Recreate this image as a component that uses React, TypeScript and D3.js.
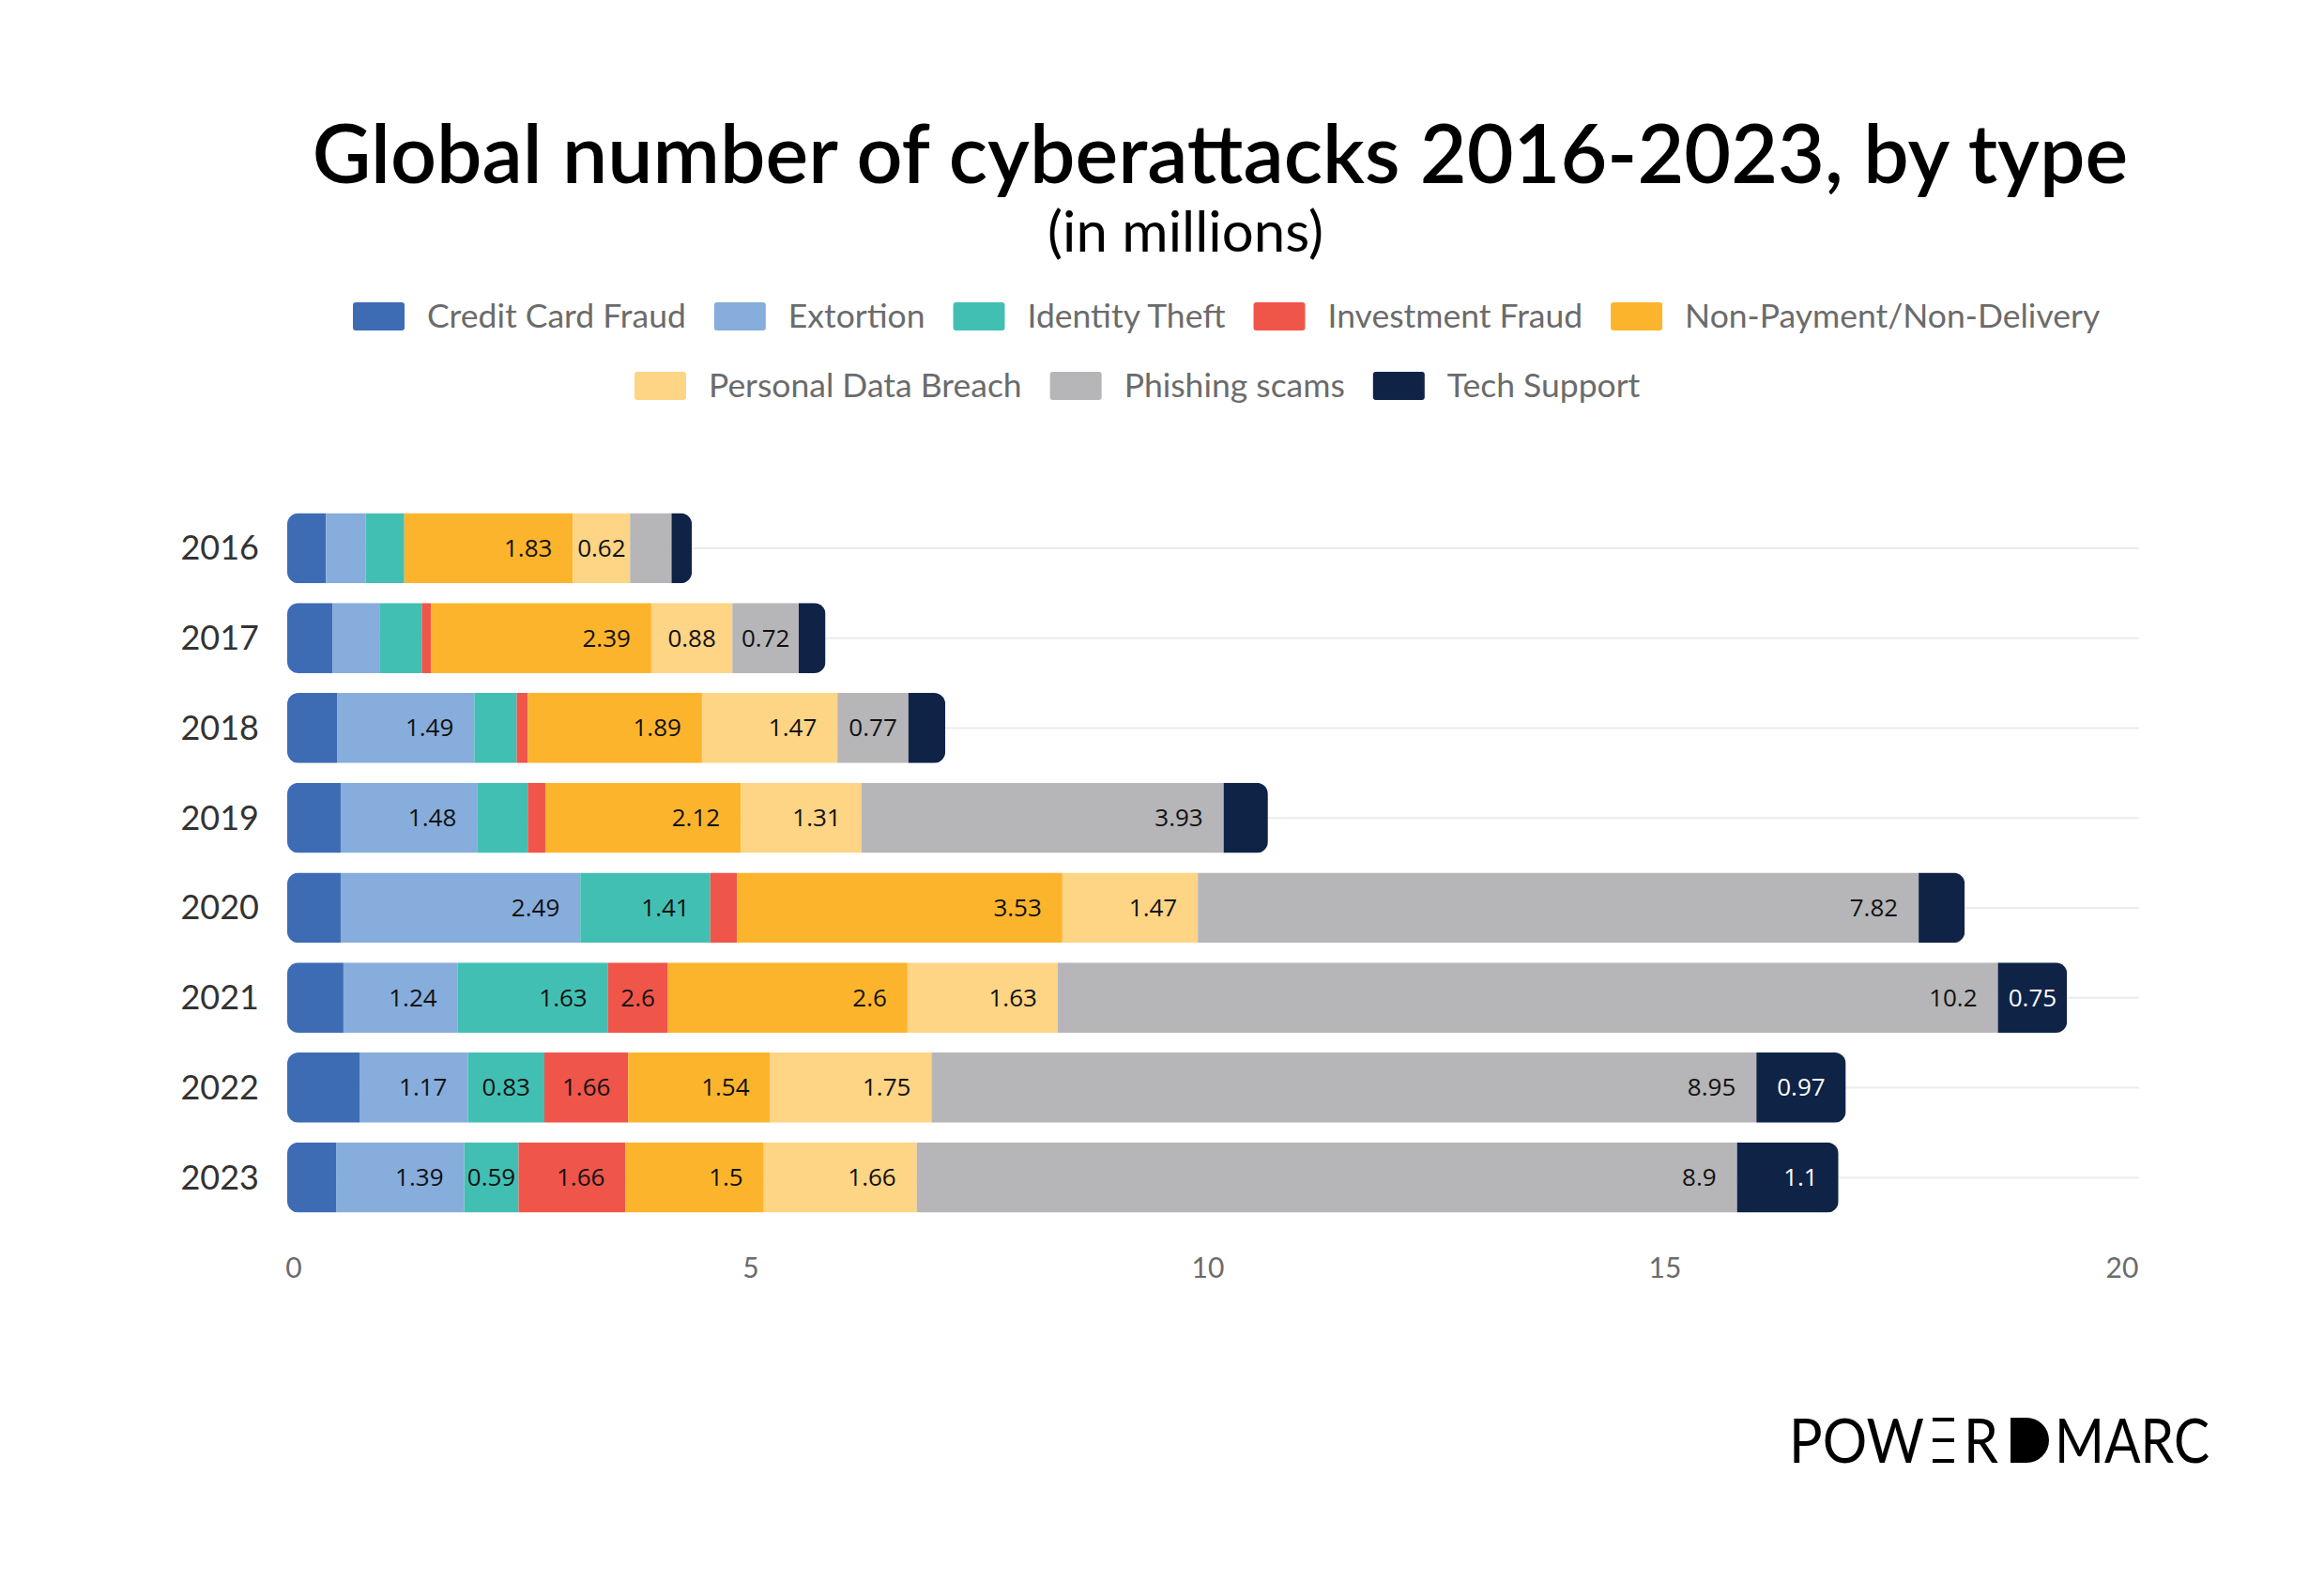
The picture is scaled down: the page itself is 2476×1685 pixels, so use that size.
import React, { useEffect, useRef } from "react";
import * as d3 from "d3";

const years = ["2016", "2017", "2018", "2019", "2020", "2021", "2022", "2023"];
const seriesNames = [
  "Credit Card Fraud",
  "Extortion",
  "Identity Theft",
  "Investment Fraud",
  "Non-Payment/Non-Delivery",
  "Personal Data Breach",
  "Phishing scams",
  "Tech Support",
];
const seriesColors = ["#3d6cb5", "#86addb", "#42bfb3", "#f0554a", "#fdb42d", "#fed485", "#b6b5b8", "#0f2347"];

// segment widths (millions) as drawn
const creditCard = [0.42, 0.49, 0.54, 0.58, 0.58, 0.61, 0.79, 0.53];
const extortion = [0.43, 0.51, 1.49, 1.48, 2.6, 1.24, 1.17, 1.39];
const identityTheft = [0.42, 0.46, 0.46, 0.55, 1.41, 1.63, 0.83, 0.59];
const investmentFraud = [0, 0.1, 0.12, 0.19, 0.29, 0.65, 0.91, 1.16];
const nonPayment = [1.83, 2.39, 1.89, 2.12, 3.53, 2.6, 1.54, 1.5];
const personalData = [0.62, 0.88, 1.47, 1.31, 1.47, 1.63, 1.75, 1.66];
const phishing = [0.45, 0.72, 0.77, 3.93, 7.82, 10.2, 8.95, 8.9];
const techSupport = [0.22, 0.29, 0.4, 0.48, 0.5, 0.75, 0.97, 1.1];

// value labels as printed on the chart ("" = none)
const creditCardLabels = ["", "", "", "", "", "", "", ""];
const extortionLabels = ["", "", "1.49", "1.48", "2.49", "1.24", "1.17", "1.39"];
const identityTheftLabels = ["", "", "", "", "1.41", "1.63", "0.83", "0.59"];
const investmentFraudLabels = ["", "", "", "", "", "2.6", "1.66", "1.66"];
const nonPaymentLabels = ["1.83", "2.39", "1.89", "2.12", "3.53", "2.6", "1.54", "1.5"];
const personalDataLabels = ["0.62", "0.88", "1.47", "1.31", "1.47", "1.63", "1.75", "1.66"];
const phishingLabels = ["", "0.72", "0.77", "3.93", "7.82", "10.2", "8.95", "8.9"];
const techSupportLabels = ["", "", "", "", "", "0.75", "0.97", "1.1"];

const xTicks = [0, 5, 10, 15, 20];

const seriesValues = [creditCard, extortion, identityTheft, investmentFraud, nonPayment, personalData, phishing, techSupport];
const seriesLabels = [
  creditCardLabels,
  extortionLabels,
  identityTheftLabels,
  investmentFraudLabels,
  nonPaymentLabels,
  personalDataLabels,
  phishingLabels,
  techSupportLabels,
];

const W = 2476;
const H = 1685;
const FONT = "Lato, 'Open Sans', sans-serif";
const NUMFONT = "'Open Sans', 'Noto Sans', sans-serif";

export default function App() {
  const ref = useRef<SVGSVGElement | null>(null);

  useEffect(() => {
    const svg = d3.select(ref.current);
    svg.selectAll("*").remove();

    const x = d3.scaleLinear().domain([0, 20]).range([306, 2270]);
    // the printed axis labels sit on a slightly narrower scale in the original
    const xAxis = d3.scaleLinear().domain([0, 20]).range([313, 2261]);
    const y = d3.scaleBand<string>().domain(years).range([536, 1302]).paddingInner(0.22).paddingOuter(0.11);
    const bh = y.bandwidth();

    // title
    svg
      .append("text")
      .attr("x", 1300)
      .attr("y", 195)
      .attr("text-anchor", "middle")
      .attr("font-family", FONT)
      .attr("font-size", 86)
      .attr("font-weight", 600)
      .attr("fill", "#000")
      .text("Global number of cyberattacks 2016-2023, by type");
    svg
      .append("text")
      .attr("x", 1263)
      .attr("y", 268)
      .attr("text-anchor", "middle")
      .attr("font-family", FONT)
      .attr("font-size", 60)
      .attr("font-weight", 400)
      .attr("fill", "#000")
      .text("(in millions)");

    // legend
    const rows = [
      { start: 376, cy: 337, items: [0, 1, 2, 3, 4] },
      { start: 676, cy: 411, items: [5, 6, 7] },
    ];
    rows.forEach((row) => {
      let cx = row.start;
      row.items.forEach((i) => {
        const g = svg.append("g");
        g.append("rect")
          .attr("x", cx)
          .attr("y", row.cy - 15)
          .attr("width", 55)
          .attr("height", 30)
          .attr("rx", 3)
          .attr("fill", seriesColors[i]);
        const t = g
          .append("text")
          .attr("x", cx + 79)
          .attr("y", row.cy)
          .attr("dy", "0.35em")
          .attr("font-family", FONT)
          .attr("font-size", 35.5)
          .attr("fill", "#6b6b6b")
          .text(seriesNames[i]);
        const tw = (t.node() as SVGTextElement).getComputedTextLength();
        cx = cx + 79 + tw + 30;
      });
    });

    // gridlines
    svg
      .append("g")
      .selectAll("line")
      .data(years)
      .join("line")
      .attr("x1", x(0))
      .attr("x2", 2279)
      .attr("y1", (d) => (y(d) as number) + bh / 2)
      .attr("y2", (d) => (y(d) as number) + bh / 2)
      .attr("stroke", "#ececec")
      .attr("stroke-width", 2);

    // year labels
    svg
      .append("g")
      .selectAll("text")
      .data(years)
      .join("text")
      .attr("x", 276)
      .attr("y", (d) => (y(d) as number) + bh / 2)
      .attr("dy", "0.35em")
      .attr("text-anchor", "end")
      .attr("font-family", FONT)
      .attr("font-size", 36)
      .attr("fill", "#333")
      .text((d) => d);

    // x tick labels
    svg
      .append("g")
      .selectAll("text")
      .data(xTicks)
      .join("text")
      .attr("x", (d) => xAxis(d))
      .attr("y", 1350)
      .attr("dy", "0.35em")
      .attr("text-anchor", "middle")
      .attr("font-family", FONT)
      .attr("font-size", 30)
      .attr("fill", "#6b6b6b")
      .text((d) => String(d));

    // stacked data
    const rowsData = years.map((yr, j) => {
      const o: Record<string, number | string> = { year: yr };
      seriesNames.forEach((s, i) => (o[s] = seriesValues[i][j]));
      return o;
    });
    const stack = d3.stack<Record<string, number | string>>().keys(seriesNames).value((d, k) => d[k] as number);
    const stacked = stack(rowsData);

    const defs = svg.append("defs");
    years.forEach((yr, j) => {
      const total = stacked[stacked.length - 1][j][1];
      defs
        .append("clipPath")
        .attr("id", `clip-${yr}`)
        .append("rect")
        .attr("x", x(0))
        .attr("y", y(yr) as number)
        .attr("width", x(total) - x(0))
        .attr("height", bh)
        .attr("rx", 12)
        .attr("ry", 12);
    });

    const bars = svg.append("g");
    years.forEach((yr, j) => {
      const g = bars.append("g").attr("clip-path", `url(#clip-${yr})`);
      stacked.forEach((layer, i) => {
        const seg = layer[j];
        if (seg[1] - seg[0] <= 0) return;
        g.append("rect")
          .attr("x", x(seg[0]))
          .attr("y", y(yr) as number)
          .attr("width", x(seg[1]) - x(seg[0]))
          .attr("height", bh)
          .attr("fill", seriesColors[i]);
      });
    });

    const labels = svg.append("g");
    years.forEach((yr, j) => {
      stacked.forEach((layer, i) => {
        const lab = seriesLabels[i][j];
        if (!lab) return;
        const seg = layer[j];
        const x0 = x(seg[0]);
        const x1 = x(seg[1]);
        const t = labels
          .append("text")
          .attr("y", (y(yr) as number) + bh / 2)
          .attr("dy", "0.35em")
          .attr("text-anchor", "end")
          .attr("font-family", NUMFONT)
          .attr("font-size", 26)
          .attr("fill", i === 7 ? "#ffffff" : "#111")
          .text(lab);
        const tw = (t.node() as SVGTextElement).getComputedTextLength();
        const pad = Math.max(2, Math.min(22, (x1 - x0 - tw) / 2));
        t.attr("x", x1 - pad);
      });
    });

    // logo
    const logo = svg.append("g").attr("fill", "#000");
    const top = 1510;
    const bot = 1558;
    logo
      .append("text")
      .attr("x", 1906)
      .attr("y", bot)
      .attr("font-family", FONT)
      .attr("font-size", 66)
      .attr("textLength", 144)
      .attr("lengthAdjust", "spacingAndGlyphs")
      .text("POW");
    [top, (top + bot) / 2 - 2, bot - 4].forEach((yy) => {
      logo.append("rect").attr("x", 2059).attr("y", yy).attr("width", 23).attr("height", 4);
    });
    logo
      .append("text")
      .attr("x", 2092)
      .attr("y", bot)
      .attr("font-family", FONT)
      .attr("font-size", 66)
      .attr("textLength", 37)
      .attr("lengthAdjust", "spacingAndGlyphs")
      .text("R");
    logo
      .append("path")
      .attr("d", `M2142,${top} H2159 A24,24 0 0 1 2159,${bot} H2142 Z`);
    logo
      .append("text")
      .attr("x", 2189)
      .attr("y", bot)
      .attr("font-family", FONT)
      .attr("font-size", 66)
      .attr("textLength", 165)
      .attr("lengthAdjust", "spacingAndGlyphs")
      .text("MARC");
  }, []);

  return (
    <svg
      ref={ref}
      width={W}
      height={H}
      viewBox={`0 0 ${W} ${H}`}
      style={{ position: "absolute", left: 0, top: 0, background: "#fff" }}
    />
  );
}
